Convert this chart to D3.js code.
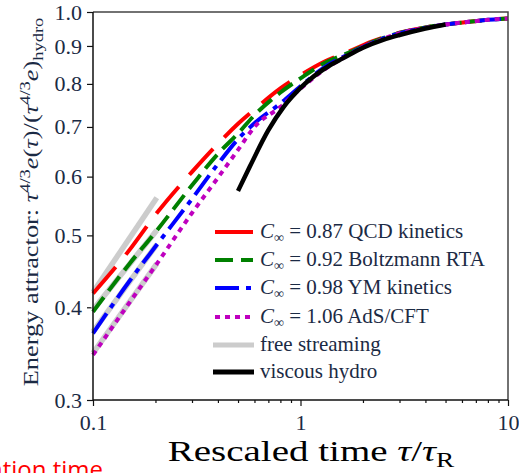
<!DOCTYPE html>
<html>
<head>
<meta charset="utf-8">
<script src="https://cdnjs.cloudflare.com/ajax/libs/d3/7.8.5/d3.min.js"></script>
<style>
    body { margin: 0; background: #fff; }
    svg { display: block; font-family: "Liberation Serif", serif; }
</style>
</head>
<body>
<script>
const w = 519;
const h = 473;

// rescaled time grid shared by the four kinetic curves
const tau = [0.1, 0.15, 0.2, 0.3, 0.4, 0.5, 0.6, 0.8, 1.0, 1.3, 1.7, 2.2, 3, 4, 5, 6.5, 8, 10];
const qcd = [0.4175, 0.478, 0.533, 0.609, 0.6645, 0.707, 0.739, 0.789, 0.822, 0.857, 0.884, 0.912, 0.938, 0.953, 0.962, 0.970, 0.976, 0.980];
const rta = [0.3945, 0.458, 0.505, 0.584, 0.644, 0.686, 0.726, 0.779, 0.814, 0.853, 0.881, 0.910, 0.937, 0.953, 0.962, 0.970, 0.976, 0.980];
const ym  = [0.369, 0.434, 0.483, 0.560, 0.624, 0.674, 0.708, 0.753, 0.794, 0.842, 0.877, 0.908, 0.936, 0.952, 0.962, 0.970, 0.976, 0.980];
const ads = [0.345, 0.406, 0.455, 0.536, 0.598, 0.652, 0.700, 0.745, 0.788, 0.836, 0.875, 0.907, 0.936, 0.952, 0.962, 0.970, 0.976, 0.980];

// viscous hydro
const tauHydro = [0.5, 0.57, 0.7, 0.83, 1.0, 1.4, 1.6, 2.0, 2.5, 3.0, 4.0, 5.0];
const hydro    = [0.574, 0.619, 0.693, 0.745, 0.79, 0.849, 0.866, 0.895, 0.917, 0.931, 0.950, 0.962];

// free streaming, one short segment per theory
const tauFree = [0.1, 0.203];
const free = [
    [0.419, 0.562],
    [0.397, 0.508],
    [0.371, 0.486],
    [0.347, 0.458]
];

const xMajor = [0.1, 1, 10];
const xMinor = [0.2, 0.3, 0.4, 0.5, 0.6, 0.7, 0.8, 0.9, 2, 3, 4, 5, 6, 7, 8, 9];
const yTicks = [0.3, 0.4, 0.5, 0.6, 0.7, 0.8, 0.9, 1.0];

const legendNames = ["0.87 QCD kinetics", "0.92 Boltzmann RTA", "0.98 YM kinetics", "1.06 AdS/CFT"];

const svg = d3.select("body")
    .append("svg")
    .attr("width", w)
    .attr("height", h);

const x = d3.scaleLog().domain([0.1, 10]).range([93, 508]);
const y = d3.scaleLog().domain([0.3, 1.0]).range([400, 12]);

const line = d3.line()
    .x(d => x(d[0]))
    .y(d => y(d[1]))
    .curve(d3.curveMonotoneX);

// axes
const xAxisMajor = d3.axisBottom(x).tickValues(xMajor).tickSize(6).tickSizeOuter(0)
    .tickFormat(d => d === 0.1 ? "0.1" : d3.format("d")(d));
const xAxisMinor = d3.axisBottom(x).tickValues(xMinor).tickSize(3).tickSizeOuter(0).tickFormat("");
const yAxis = d3.axisLeft(y).tickValues(yTicks).tickSize(6).tickSizeOuter(0)
    .tickFormat(d3.format(".1f"));

svg.append("g").attr("transform", "translate(0,400)").call(xAxisMinor)
    .call(g => g.select(".domain").remove());
const gx = svg.append("g").attr("transform", "translate(0,400)").call(xAxisMajor);
gx.select(".domain").remove();
gx.selectAll("text")
    .attr("y", 14)
    .style("font-family", "Liberation Serif")
    .style("font-size", "22px")
    .attr("fill", "#1b2a44");

const gy = svg.append("g").attr("transform", "translate(93,0)").call(yAxis);
gy.select(".domain").remove();
gy.selectAll("text")
    .attr("x", -11)
    .style("font-family", "Liberation Serif")
    .style("font-size", "22px")
    .attr("fill", "#1b2a44");
svg.selectAll(".tick line").attr("stroke", "#111").attr("stroke-width", 1.2);

// free streaming (grey, underneath)
free.forEach(vals => {
    svg.append("path")
        .datum(tauFree.map((t, i) => [t, vals[i]]))
        .attr("d", line)
        .attr("fill", "none")
        .attr("stroke", "#cccccc")
        .attr("stroke-width", 5.5);
});

const series = [
    { vals: qcd, color: "#ff0000", dash: "35,16" },
    { vals: rta, color: "#008000", dash: "18,8" },
    { vals: ym,  color: "#0000ff", dash: "24,7,5,7" },
    { vals: ads, color: "#bf00bf", dash: "5,5" }
];

series.forEach(s => {
    svg.append("path")
        .datum(tau.map((t, i) => [t, s.vals[i]]))
        .attr("d", line)
        .attr("fill", "none")
        .attr("stroke", s.color)
        .attr("stroke-width", 4)
        .attr("stroke-dasharray", s.dash);
});

svg.append("path")
    .datum(tauHydro.map((t, i) => [t, hydro[i]]))
    .attr("d", line)
    .attr("fill", "none")
    .attr("stroke", "#000")
    .attr("stroke-width", 4.5);

// frame
svg.append("path")
    .attr("d", `M93,12H508V400`)
    .attr("fill", "none")
    .attr("stroke", "#444")
    .attr("stroke-width", 1.5);
svg.append("path")
    .attr("d", `M93,12V400H508`)
    .attr("fill", "none")
    .attr("stroke", "#111")
    .attr("stroke-width", 1.5);

// legend
const legend = svg.append("g");
const rowY = [232, 260, 288, 317];
series.forEach((s, i) => {
    legend.append("line")
        .attr("x1", 215).attr("x2", 253)
        .attr("y1", rowY[i]).attr("y2", rowY[i])
        .attr("stroke", s.color)
        .attr("stroke-width", 4)
        .attr("stroke-dasharray", i === 0 ? null : s.dash);
    const t = legend.append("text")
        .attr("x", 260).attr("y", rowY[i] + 6)
        .style("font-size", "21px")
        .attr("fill", "#1b2a44");
    t.append("tspan").style("font-style", "italic").text("C");
    t.append("tspan").attr("baseline-shift", "-4").style("font-size", "14px").text("∞");
    t.append("tspan").text(" = " + legendNames[i]);
});
[["free streaming", "#cccccc", 345], ["viscous hydro", "#000", 372]].forEach(r => {
    legend.append("line")
        .attr("x1", 213).attr("x2", 254)
        .attr("y1", r[2]).attr("y2", r[2])
        .attr("stroke", r[1])
        .attr("stroke-width", 5);
    legend.append("text")
        .attr("x", 260).attr("y", r[2] + 6)
        .style("font-size", "21px")
        .attr("fill", "#1b2a44")
        .text(r[0]);
});

// axis titles (Computer Modern is wider than Times, so stretch horizontally)
svg.append("text")
    .attr("transform", "translate(311,461) scale(1.3,1)")
    .attr("text-anchor", "middle")
    .style("font-size", "30px")
    .attr("fill", "#000")
    .call(t => {
        t.append("tspan").text("Rescaled time ");
        t.append("tspan").style("font-style", "italic").text("τ");
        t.append("tspan").text("/");
        t.append("tspan").style("font-style", "italic").text("τ");
        t.append("tspan").attr("baseline-shift", "-6").style("font-size", "21px").text("R");
    });

svg.append("text")
    .attr("transform", "translate(38,202) rotate(-90) scale(1.32,1)")
    .attr("text-anchor", "middle")
    .style("font-size", "20px")
    .attr("fill", "#1b2a44")
    .call(t => {
        t.append("tspan").text("Energy attractor: ");
        t.append("tspan").style("font-style", "italic").text("τ");
        t.append("tspan").attr("baseline-shift", "8").style("font-size", "14px").text("4/3");
        t.append("tspan").style("font-style", "italic").text("e");
        t.append("tspan").text("(");
        t.append("tspan").style("font-style", "italic").text("τ");
        t.append("tspan").text(")/(");
        t.append("tspan").style("font-style", "italic").text("τ");
        t.append("tspan").attr("baseline-shift", "8").style("font-size", "14px").text("4/3");
        t.append("tspan").style("font-style", "italic").text("e");
        t.append("tspan").text(")");
        t.append("tspan").attr("baseline-shift", "-5").style("font-size", "14px").text("hydro");
    });

// annotation cut off at the bottom left, as in the source slide
svg.append("text")
    .attr("x", 103).attr("y", 478)
    .attr("text-anchor", "end")
    .style("font-family", "Open Sans, sans-serif")
    .style("font-size", "24px")
    .attr("fill", "#ff0000")
    .text("relaxation time");
</script>
</body>
</html>
